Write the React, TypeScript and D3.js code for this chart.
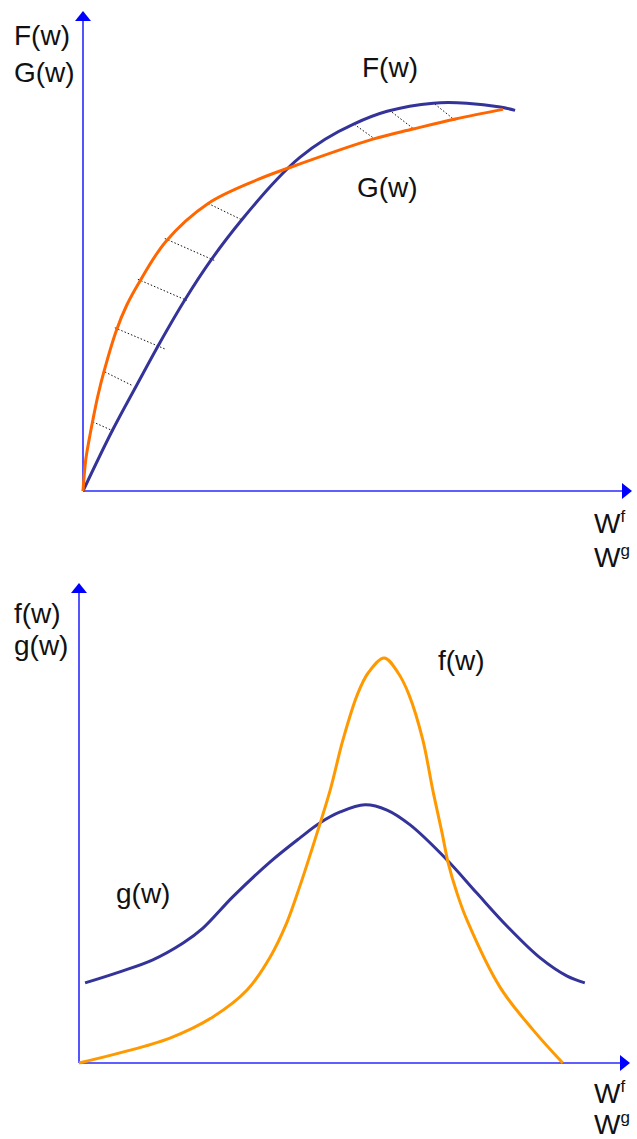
import React from "react";
import * as d3 from "d3";

// Cumulative curves (upper panel), in units of 0..100 on both axes
const cumF: [number, number][] = [
  [0, 0], [5.3, 12.5], [9.8, 22.1], [14.0, 30.9], [18.6, 39.9], [23.5, 48.4],
  [29.0, 56.6], [35.3, 64.9], [39.5, 69.5], [44.1, 73.3], [49.2, 76.4],
  [55.4, 79.1], [63.8, 80.8], [69.9, 80.8], [76.0, 80.0], [78.7, 79.3],
];
const cumG: [number, number][] = [
  [0, 0], [0.5, 6.5], [1.1, 10.6], [1.8, 14.8], [2.7, 19.8], [3.8, 24.8],
  [6.0, 33.2], [8.0, 38.8], [10.2, 43.4], [15.1, 52.0], [22.8, 59.9],
  [31.9, 64.9], [37.7, 67.4], [52.8, 73.3], [60.1, 75.4], [67.8, 77.5], [76.5, 79.5],
];
// Dotted hatching between G and F: [from G point, to F point]
const hatch: [[number, number], [number, number]][] = [
  [[1.8, 14.4], [5.5, 12.5]],
  [[4.0, 24.8], [9.1, 21.9]],
  [[5.8, 34.0], [14.9, 29.6]],
  [[10.0, 44.1], [18.9, 39.7]],
  [[14.9, 52.6], [24.0, 48.0]],
  [[22.8, 59.9], [29.1, 56.4]],
  [[49.4, 76.4], [53.2, 73.3]],
  [[56.3, 78.9], [60.5, 75.2]],
  [[64.1, 80.6], [67.8, 77.2]],
];

// Density curves (lower panel)
const densF: [number, number][] = [
  [0, 0], [7.4, 2.1], [16.5, 5.2], [24.3, 9.6], [30.5, 15.2], [34.7, 22.1],
  [37.7, 29.2], [40.1, 36.9], [43.2, 47.9], [45.6, 56.9], [47.9, 67.3],
  [50.5, 76.7], [52.5, 81.3], [55.4, 84.4], [57.9, 81.3], [59.9, 76.7],
  [62.4, 67.3], [64.2, 56.9], [65.9, 47.9], [67.0, 41.7], [68.6, 35.4],
  [70.4, 29.8], [76.4, 15.8], [82.4, 6.9], [87.8, 0],
];
const densG: [number, number][] = [
  [1.1, 16.7], [7.4, 19.0], [13.4, 21.5], [18.9, 25.0], [22.5, 28.1],
  [27.9, 34.6], [34.7, 41.9], [40.1, 46.9], [43.7, 50.0], [47.4, 52.3],
  [51.9, 53.8], [55.9, 52.7], [60.1, 49.6], [66.8, 42.3], [72.2, 35.4],
  [77.7, 28.5], [83.7, 21.9], [88.6, 18.1], [91.8, 16.7],
];

const AXIS = "#2a2aff";
const NAVY = "#333399";
const FONT = "'Liberation Sans', Arial, sans-serif";

type Panel = { x0: number; x1: number; y0: number; y1: number };
const top: Panel = { x0: 83, x1: 632, y0: 491, y1: 11 };
const bottom: Panel = { x0: 79, x1: 630, y0: 1063, y1: 583 };

function Axes({ p }: { p: Panel }) {
  return (
    <g>
      <line x1={p.x0} y1={p.y0} x2={p.x0} y2={p.y1 + 8} stroke={AXIS} strokeWidth={1.6} />
      <line x1={p.x0} y1={p.y0} x2={p.x1 - 8} y2={p.y0} stroke={AXIS} strokeWidth={1.6} />
      <path d={`M${p.x0},${p.y1} L${p.x0 - 8},${p.y1 + 10} L${p.x0 + 8},${p.y1 + 10} Z`} fill="#0000ff" />
      <path d={`M${p.x1},${p.y0} L${p.x1 - 10},${p.y0 - 8} L${p.x1 - 10},${p.y0 + 8} Z`} fill="#0000ff" />
    </g>
  );
}

function Label({ x, y, text, sup }: { x: number; y: number; text: string; sup?: string }) {
  return (
    <text x={x} y={y} fontFamily={FONT} fontSize={28} fill="#111">
      {text}
      {sup && (
        <tspan fontSize={17} dy={-11}>
          {sup}
        </tspan>
      )}
    </text>
  );
}

export default function App() {
  const xt = d3.scaleLinear().domain([0, 100]).range([top.x0, top.x1]);
  const yt = d3.scaleLinear().domain([0, 100]).range([top.y0, top.y1]);
  const xb = d3.scaleLinear().domain([0, 100]).range([bottom.x0, bottom.x1]);
  const yb = d3.scaleLinear().domain([0, 100]).range([bottom.y0, bottom.y1]);

  const curve = d3.curveCatmullRom.alpha(0.5);
  const lineTop = d3
    .line<[number, number]>()
    .x((d) => xt(d[0]))
    .y((d) => yt(d[1]))
    .curve(curve);
  const lineBottom = d3
    .line<[number, number]>()
    .x((d) => xb(d[0]))
    .y((d) => yb(d[1]))
    .curve(curve);

  return (
    <svg
      width={637}
      height={1139}
      style={{ position: "absolute", left: 0, top: 0, background: "#fff" }}
    >
      {/* upper panel: cumulative distributions */}
      <Axes p={top} />
      {hatch.map(([a, b], i) => (
        <line
          key={i}
          x1={xt(a[0])}
          y1={yt(a[1])}
          x2={xt(b[0])}
          y2={yt(b[1])}
          stroke="#111"
          strokeWidth={1}
          strokeDasharray="1.5,2"
        />
      ))}
      <path d={lineTop(cumF) ?? ""} fill="none" stroke={NAVY} strokeWidth={3} />
      <path d={lineTop(cumG) ?? ""} fill="none" stroke="#ff6600" strokeWidth={3} />
      <Label x={14} y={45} text="F(w)" />
      <Label x={14} y={82} text="G(w)" />
      <Label x={362} y={77} text="F(w)" />
      <Label x={357} y={197} text="G(w)" />
      <Label x={594} y={533} text="W" sup="f" />
      <Label x={594} y={567} text="W" sup="g" />

      {/* lower panel: densities */}
      <Axes p={bottom} />
      <path d={lineBottom(densG) ?? ""} fill="none" stroke={NAVY} strokeWidth={3} />
      <path d={lineBottom(densF) ?? ""} fill="none" stroke="#ff9900" strokeWidth={3} />
      <Label x={14} y={623} text="f(w)" />
      <Label x={14} y={655} text="g(w)" />
      <Label x={438} y={670} text="f(w)" />
      <Label x={116} y={903} text="g(w)" />
      <Label x={594} y={1103} text="W" sup="f" />
      <Label x={594} y={1134} text="W" sup="g" />
    </svg>
  );
}
